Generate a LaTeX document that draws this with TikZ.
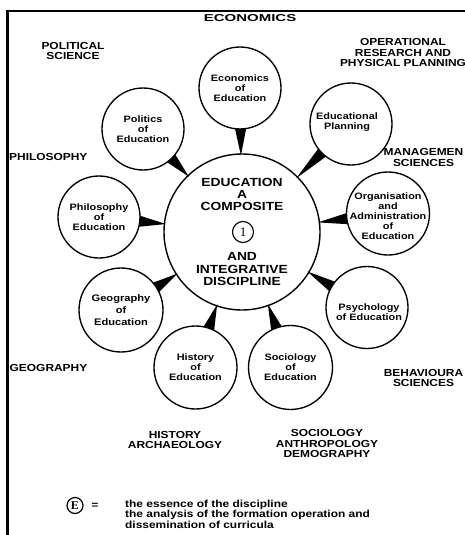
\documentclass[tikz,border=0pt]{standalone}
\usepackage{fontspec}
\setmainfont{Liberation Sans}[FakeStretch=1.17]
\newfontfamily\serifnum{Liberation Serif}
\newfontfamily\widefont{Liberation Sans}[FakeStretch=1.5]
\usetikzlibrary{calc}
\newcommand\mytail[2]{%
  \coordinate (#1-b) at ($(#1)!#2!(C)$);
  \coordinate (#1-tip) at ($(C)!76.5pt!(#1)$);
  \fill (#1-tip) -- ($(#1-b)!5.5pt!90:(C)$) -- ($(#1-b)!5.5pt!-90:(C)$) -- cycle;
}
\tikzset{
  sat/.style={circle, draw, line width=1.35pt, fill=white, minimum size=82pt, inner sep=0pt},
  sattxt/.style={align=center, inner sep=0pt, font=\fontsize{9.3}{10}\selectfont\bfseries},
  outer/.style={align=center, inner sep=0pt, font=\fontsize{10.2}{10.8}\selectfont\bfseries},
  core/.style={align=center, inner sep=0pt, font=\fontsize{11.8}{12.2}\selectfont\bfseries},
}
\begin{document}
\begin{tikzpicture}[x=1pt,y=-1pt]
\useasboundingbox (0,0) rectangle (465,535);
\fill[white] (0,0) rectangle (465,535);
% frame
\draw[line width=2.6pt] (465,11) -- (7.3,11) -- (7.3,535);

% central circle
\node[circle, draw, line width=1.4pt, minimum size=156pt, inner sep=0pt] (C) at (242,232) {};
\node[core] (ctop) at (242,194.5) {EDUCATION\\A\\COMPOSITE};
\node[circle, draw, line width=1.1pt, minimum size=21pt, inner sep=0pt, font=\serifnum\fontsize{13}{13}\selectfont] (one) at (243,232) {1};
\node[core] (cbot) at (242,269) {AND\\INTEGRATIVE\\DISCIPLINE};

% satellites
\node[sat] (eco) at (240,88) {};
\node[sat] (pol) at (143,129) {};
\node[sat] (phi) at (99,217) {};
\node[sat, minimum size=84pt] (geo) at (121,310) {};
\node[sat, minimum size=83pt] (his) at (195.5,367.5) {};
\node[sat, minimum size=84pt] (soc) at (290.5,367.5) {};
\node[sat] (psy) at (367,307.5) {};
\node[sat, minimum size=83pt] (org) at (388,213.5) {};
\node[sat] (pla) at (351,124) {};

\node[sattxt] (eco-t) at (eco) {Economics\\of\\Education};
\node[sattxt] (pol-t) at (pol) {Politics\\of\\Education};
\node[sattxt] (phi-t) at (phi) {Philosophy\\of\\Education};
\node[sattxt, font=\fontsize{9.5}{11.8}\selectfont\bfseries] (geo-t) at (geo) {Geography\\of\\Education};
\node[sattxt] (his-t) at (his) {History\\of\\Education};
\node[sattxt] (soc-t) at (soc) {Sociology\\of\\Education};
\node[sattxt] (psy-t) at (369,312) {Psychology\\of Education};
\node[sattxt] (org-t) at (388,216) {Organisation\\and\\Administration\\of\\Education};
\node[sattxt] (pla-t) at (347,122.5) {Educational\\Planning};

% tails
\mytail{eco}{41pt}
\mytail{pol}{41pt}
\mytail{phi}{41pt}
\mytail{geo}{42pt}
\mytail{his}{41.5pt}
\mytail{soc}{42pt}
\mytail{psy}{41pt}
\mytail{org}{41.5pt}
\mytail{pla}{41pt}

% outer disciplines
\node[outer, font=\widefont\fontsize{10}{10.8}\selectfont\bfseries] (l-eco) at (250,18) {ECONOMICS};
\node[outer] (l-pol) at (73,51) {POLITICAL\\SCIENCE};
\node[outer] (l-ops) at (403,52.5) {OPERATIONAL\\RESEARCH AND\\PHYSICAL PLANNING};
\node[outer] (l-man) at (423.5,157.5) {MANAGEMEN\\SCIENCES};
\node[outer, anchor=west] (l-phi) at (9,157) {PHILOSOPHY};
\node[outer, anchor=west] (l-geo) at (9.5,368) {GEOGRAPHY};
\node[outer] (l-his) at (175,440) {HISTORY\\ARCHAEOLOGY};
\node[outer] (l-soc) at (327,443.5) {SOCIOLOGY\\ANTHROPOLOGY\\DEMOGRAPHY};
\node[outer] (l-beh) at (423.5,378) {BEHAVIOURA\\SCIENCES};

% legend
\node[circle, draw, line width=1.2pt, minimum size=16pt, inner sep=0pt, font=\serifnum\bfseries\fontsize{12}{12}\selectfont] (ess) at (75,505.5) {E};
\node[font=\fontsize{10}{10}\selectfont\bfseries] (eq) at (95,505.5) {=};
\node[anchor=west, align=left, inner sep=0pt, font=\fontsize{10.2}{8}\selectfont\bfseries] (leg) at (125,514) {the essence of the discipline\\the analysis of the formation operation and\\dissemination of curricula};
\end{tikzpicture}
\end{document}
